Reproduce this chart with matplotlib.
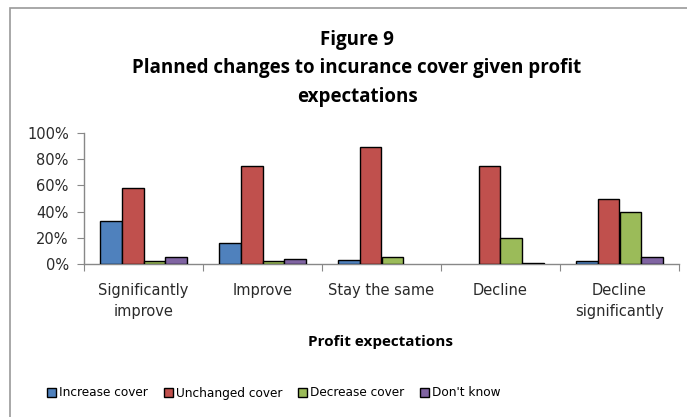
import matplotlib
matplotlib.use("Agg")
import matplotlib.pyplot as plt
from matplotlib.patches import Rectangle
import numpy as np

categories = ["Significantly\nimprove", "Improve", "Stay the same", "Decline", "Decline\nsignificantly"]
series_names = ["Increase cover", "Unchanged cover", "Decrease cover", "Don't know"]
increase_cover = [33, 16, 3, 0, 2]
unchanged_cover = [58, 75, 89, 75, 50]
decrease_cover = [2, 2, 5, 20, 40]
dont_know = [5, 4, 0, 1, 5]
yticks = [0, 20, 40, 60, 80, 100]

series = [increase_cover, unchanged_cover, decrease_cover, dont_know]
colors = ["#4F81BD", "#C0504D", "#9BBB59", "#8064A2"]

W, H = 687, 417
fig = plt.figure(figsize=(W / 100, H / 100), dpi=100)
fig.patch.set_facecolor("white")

# chart-area frame
fig.add_artist(Rectangle((10 / W, -0.05), 1.2, 1 - 8 / H + 0.05, transform=fig.transFigure,
                         fill=False, edgecolor="#9a9a9a", linewidth=1.2))

ax = fig.add_axes([84 / W, 1 - 264 / H, (679 - 84) / W, (264 - 133) / H])
x = np.arange(len(categories))
bw = 1 / 5.5
for i, (vals, c, name) in enumerate(zip(series, colors, series_names)):
    lw = [1.0 if v > 0 else 0 for v in vals]
    ax.bar(x - 2 * bw + (i + 0.5) * bw, vals, width=bw, color=c, edgecolor="black",
           linewidth=lw, label=name, zorder=3)

tick_font = {"family": "DejaVu Sans", "size": 10.5}
ax.set_xlim(-0.5, len(categories) - 0.5)
ax.set_ylim(0, 100)
ax.set_yticks(yticks)
ax.set_yticklabels([f"{v}%" for v in yticks], color="#2a2a2a", **tick_font)
ax.set_xticks(np.arange(len(categories) + 1) - 0.5, minor=False)
ax.set_xticklabels([])
ax.set_xticks(x, minor=True)
ax.set_xticklabels(categories, minor=True, color="#2a2a2a", linespacing=1.45, **tick_font)
ax.tick_params(axis="x", which="minor", length=0, pad=14)
ax.tick_params(axis="x", which="major", length=5, direction="out", color="#888888")
ax.tick_params(axis="y", length=5, direction="out", color="#888888", pad=6)
for s in ["top", "right"]:
    ax.spines[s].set_visible(False)
for s in ["left", "bottom"]:
    ax.spines[s].set_color("#888888")
    ax.spines[s].set_linewidth(1.0)

fig.text(381 / W, 1 - 342 / H, "Profit expectations", ha="center", va="center",
         fontsize=11, fontweight="bold", family="Open Sans")

title_kw = dict(ha="center", va="center", fontsize=13.5, fontweight="bold", family="Open Sans")
fig.text(357 / W, 1 - 40 / H, "Figure 9", **title_kw)
fig.text(357 / W, 1 - 68 / H, "Planned changes to incurance cover given profit", **title_kw)
fig.text(357 / W, 1 - 97 / H, "expectations", **title_kw)

leg = fig.legend(loc="center", bbox_to_anchor=(274 / W, 1 - 393 / H), ncol=4, frameon=False,
                 prop={"family": "DejaVu Sans", "size": 8.7}, handlelength=0.75, handleheight=0.75,
                 handletextpad=0.25, columnspacing=1.3)

fig.savefig("out.png", dpi=100, facecolor="white")
